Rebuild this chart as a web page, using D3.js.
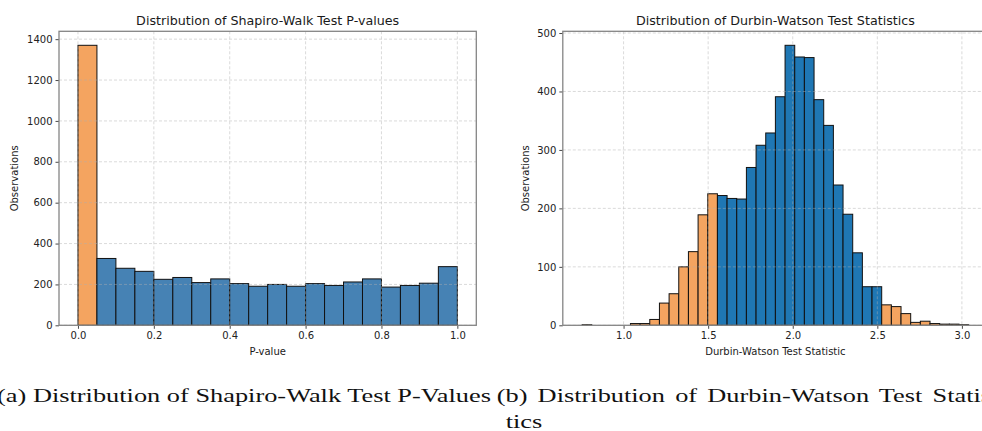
<!DOCTYPE html>
<html>
<head>
<meta charset="utf-8">
<script src="https://cdn.jsdelivr.net/npm/d3@7"></script>
<style>
  html, body { margin: 0; padding: 0; background: #fff; overflow: hidden; }
  svg { display: block; }
  .tick text { font-family: "DejaVu Sans", sans-serif; font-size: 10px; fill: #222; }
</style>
</head>
<body>
<svg id="fig" width="982" height="431"></svg>
<script>
// ---- Shapiro-Wilk p-values: 20 bins of width 0.05 over [0, 1]
const swBinStart = 0;
const swBinEnd = 1;
const swCounts = [1370, 327, 279, 264, 225, 234, 209, 227, 204, 191,
                  200, 191, 204, 195, 212, 227, 187, 195, 206, 287];
const swXTicks = [0.0, 0.2, 0.4, 0.6, 0.8, 1.0];
const swYTicks = [0, 200, 400, 600, 800, 1000, 1200, 1400];

// ---- Durbin-Watson statistics: 40 bins over [0.755, 3.040]
const dwBinStart = 0.755;
const dwBinEnd = 3.040;
const dwCounts = [1, 0, 0, 0, 0, 3, 3, 10, 38, 54,
                  100, 126, 189, 225, 222, 217, 216, 270, 308, 329,
                  391, 479, 459, 458, 386, 342, 240, 190, 124, 66,
                  66, 35, 32, 20, 5, 7, 3, 2, 2, 1];
const dwXTicks = [1.0, 1.5, 2.0, 2.5, 3.0];
const dwYTicks = [0, 100, 200, 300, 400, 500];

const svg = d3.select("#fig");

function drawHist(opt) {
  const n = opt.counts.length;
  const w = (opt.end - opt.start) / n;
  const bins = opt.counts.map((c, i) => ({ x0: opt.start + i * w, x1: opt.start + (i + 1) * w, c }));

  // matplotlib-style autoscale: 5% margin on x, 5% headroom on y
  const span = opt.end - opt.start;
  const x = d3.scaleLinear().domain([opt.start - 0.05 * span, opt.end + 0.05 * span]).range([opt.left, opt.right]);
  const y = d3.scaleLinear().domain([0, d3.max(opt.counts) * 1.05]).range([opt.bottom, opt.top]);

  const g = svg.append("g");

  // bars
  g.selectAll("rect.bar").data(bins).join("rect")
    .attr("class", "bar")
    .attr("x", d => x(d.x0))
    .attr("width", d => x(d.x1) - x(d.x0))
    .attr("y", d => y(d.c))
    .attr("height", d => y(0) - y(d.c))
    .attr("fill", d => opt.highlight(d) ? opt.hiColor : opt.color)
    .attr("stroke", "#111")
    .attr("stroke-width", 1);

  // dashed grid, drawn above the bars
  const grid = g.append("g").attr("stroke", "#b0b0b0").attr("stroke-width", 0.7)
    .attr("stroke-dasharray", "3,2").attr("opacity", 0.65);
  grid.selectAll("line.gx").data(opt.xTicks).join("line")
    .attr("x1", d => x(d)).attr("x2", d => x(d)).attr("y1", opt.top).attr("y2", opt.bottom);
  grid.selectAll("line.gy").data(opt.yTicks).join("line")
    .attr("x1", opt.left).attr("x2", opt.right).attr("y1", d => y(d)).attr("y2", d => y(d));

  // axes
  const xAxis = d3.axisBottom(x).tickValues(opt.xTicks).tickFormat(d3.format(".1f")).tickSize(3.5).tickPadding(3);
  const yAxis = d3.axisLeft(y).tickValues(opt.yTicks).tickFormat(d3.format("d")).tickSize(3.5).tickPadding(3);
  const gx = g.append("g").attr("transform", `translate(0,${opt.bottom})`).call(xAxis);
  const gy = g.append("g").attr("transform", `translate(${opt.left},0)`).call(yAxis);
  [gx, gy].forEach(a => {
    a.select(".domain").remove();
    a.selectAll(".tick line").attr("stroke", "#333").attr("stroke-width", 0.9);
  });

  // frame
  g.append("rect")
    .attr("x", opt.left).attr("y", opt.top)
    .attr("width", opt.right - opt.left).attr("height", opt.bottom - opt.top)
    .attr("fill", "none").attr("stroke", "#858585").attr("stroke-width", 1.3);

  const cx = (opt.left + opt.right) / 2;
  g.append("text")
    .attr("x", cx).attr("y", 24.5)
    .attr("text-anchor", "middle")
    .style("font-family", "DejaVu Sans, sans-serif").style("font-size", "12.7px").attr("fill", "#1a1a1a")
    .text(opt.title);
  g.append("text")
    .attr("x", cx).attr("y", 355)
    .attr("text-anchor", "middle")
    .style("font-family", "DejaVu Sans, sans-serif").style("font-size", "10px").attr("fill", "#1a1a1a")
    .text(opt.xLabel);
  g.append("text")
    .attr("transform", `translate(${opt.yLabelX},${(opt.top + opt.bottom) / 2}) rotate(-90)`)
    .attr("text-anchor", "middle")
    .style("font-family", "DejaVu Sans, sans-serif").style("font-size", "10px").attr("fill", "#1a1a1a")
    .text("Observations");
}

drawHist({
  counts: swCounts, start: swBinStart, end: swBinEnd,
  xTicks: swXTicks, yTicks: swYTicks,
  left: 59, right: 476.3, top: 31.3, bottom: 325.3,
  color: "#4682b4", hiColor: "#f4a460",
  highlight: d => d.x0 < 0.05,
  title: "Distribution of Shapiro-Walk Test P-values",
  xLabel: "P-value", yLabelX: 18
});

drawHist({
  counts: dwCounts, start: dwBinStart, end: dwBinEnd,
  xTicks: dwXTicks, yTicks: dwYTicks,
  left: 562.8, right: 988, top: 31.3, bottom: 325.3,
  color: "#1f77b4", hiColor: "#f4a460",
  highlight: d => d.x0 < 1.5 || d.x0 > 2.5,
  title: "Distribution of Durbin-Watson Test Statistics",
  xLabel: "Durbin-Watson Test Statistic", yLabelX: 528.5
});

// ---- sub-figure captions (serif, widened to the caption block width)
const capFont = "Liberation Serif, DejaVu Serif, serif";
const capA = svg.append("text")
  .style("font-family", capFont).style("font-size", "19px").attr("fill", "#111")
  .attr("text-anchor", "end")
  .text("(a) Distribution of Shapiro-Walk Test P-Values");
const natural = capA.node().getComputedTextLength();
const k = 494 / natural;
capA.attr("transform", `translate(491,401.5) scale(${k},1)`);

// justified first line of the wrapped caption (b)
svg.append("text")
  .style("font-family", capFont).style("font-size", "19px").attr("fill", "#111")
  .style("word-spacing", "2.6px")
  .attr("transform", `translate(496.7,401.5) scale(${k},1)`)
  .text("(b) Distribution of Durbin-Watson Test Statis-");

svg.append("text")
  .style("font-family", capFont).style("font-size", "19px").attr("fill", "#111")
  .attr("text-anchor", "middle")
  .attr("transform", `translate(524,428) scale(${k},1)`)
  .text("tics");
</script>
</body>
</html>
